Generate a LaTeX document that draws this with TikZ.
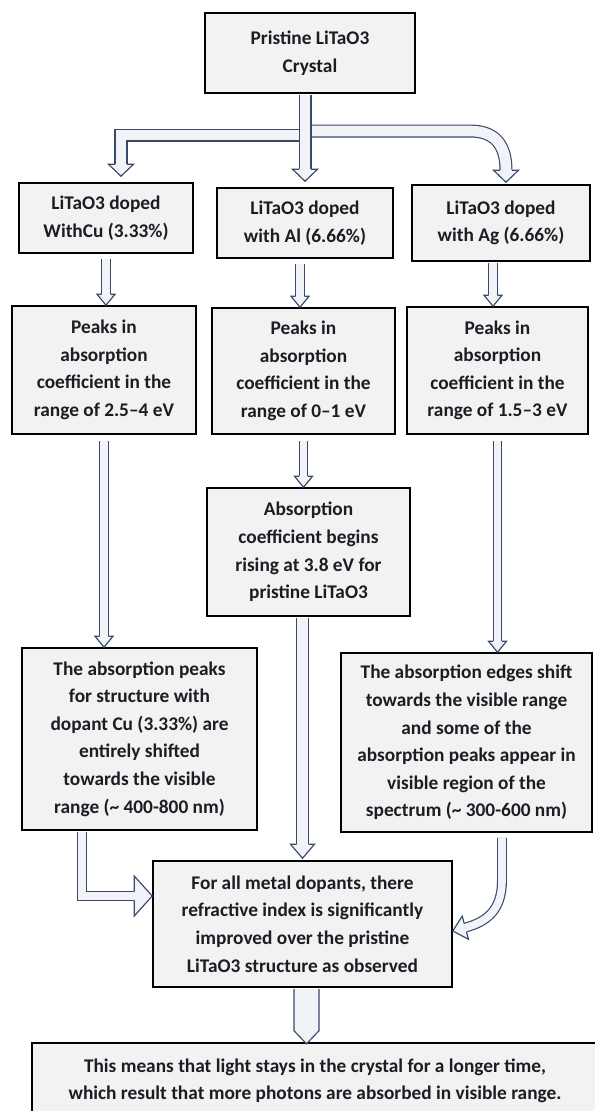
\documentclass[tikz,border=0pt]{standalone}
\usepackage{fontspec}
\setmainfont{Carlito}
\usepackage{tikz}
\usetikzlibrary{calc}
\definecolor{boxgray}{RGB}{242,242,242}
\definecolor{arrowline}{RGB}{56,74,108}
\definecolor{arrowfill}{RGB}{242,243,246}
\definecolor{inkdark}{RGB}{28,28,36}
\tikzset{%
    box/.style={%
        draw=black, line width=1.3pt, fill=boxgray, text=inkdark,
        align=center, inner sep=2pt,
        font=\fontsize{16.5}{23.5}\selectfont\bfseries
    },
    thinshaft/.style={draw=arrowline, line width=1pt, double=arrowfill, double distance=6.5pt},
    wideshaft/.style={draw=arrowline, line width=1pt, double=arrowfill, double distance=9.1pt},
    tipline/.style={draw=arrowline, line width=1pt, fill=arrowfill, line join=miter}
}
% tip, angle, half shaft, half head, length
\newcommand{\blockhead}[5]{%
    \begin{scope}[shift={#1}, rotate=#2]
        \filldraw[tipline] (-#3,-#5) -- (-#4,-#5) -- (0,0) -- (#4,-#5) -- (#3,-#5);
    \end{scope}}

\begin{document}
\begin{tikzpicture}[x=0.03cm, y=-0.03cm]
\useasboundingbox (0,0) rectangle (595,1111);

\node[box, minimum width=6.3cm, minimum height=2.4cm] (top) at (310,53) {Pristine LiTaO3\\Crystal};

\node[box, minimum width=5.22cm, minimum height=2.1cm] (cu1) at (106,218) {LiTaO3 doped\\WithCu (3.33\%)};
\node[box, minimum width=5.28cm, minimum height=2.1cm] (al1) at (305,223) {LiTaO3 doped\\with Al (6.66\%)};
\node[box, minimum width=5.34cm, minimum height=2.28cm] (ag1) at (501,223) {LiTaO3 doped\\with Ag (6.66\%)};

\node[box, minimum width=5.52cm, minimum height=3.84cm] (cu2) at (104,370) {Peaks in\\absorption\\coefficient in the\\range of 2.5--4 eV};
\node[box, minimum width=5.49cm, minimum height=3.78cm] (al2) at (303.5,371) {Peaks in\\absorption\\coefficient in the\\range of 0--1 eV};
\node[box, minimum width=5.43cm, minimum height=3.81cm] (ag2) at (497.5,370.5) {Peaks in\\absorption\\coefficient in the\\range of 1.5--3 eV};

\node[box, minimum width=6.09cm, minimum height=3.84cm] (al3) at (308.5,552) {Absorption\\coefficient begins\\rising at 3.8 eV for\\pristine LiTaO3};

\node[box, minimum width=7.05cm, minimum height=5.46cm] (cu3) at (139.5,739) {The absorption peaks\\for structure with\\dopant Cu (3.33\%) are\\entirely shifted\\towards the visible\\range (\textasciitilde{} 400-800 nm)};
\node[box, minimum width=7.53cm, minimum height=5.37cm] (ag3) at (466.5,742.5) {The absorption edges shift\\towards the visible range\\and some of the\\absorption peaks appear in\\visible region of the\\spectrum (\textasciitilde{} 300-600 nm)};

\node[box, minimum width=8.97cm, minimum height=3.78cm] (final) at (302.5,924) {For all metal dopants, there\\refractive index is significantly\\improved over the pristine\\LiTaO3 structure as observed};

\node[box, minimum width=16.98cm, minimum height=2.28cm] (bottom) at (315,1081) {This means that light stays in the crystal for a longer time,\\which result that more photons are absorbed in visible range.};

% split from the pristine crystal
\coordinate (fork) at (305,133);
\draw[wideshaft] ($(fork)+(0,2)$) -| ($(cu1.north)+(15,-18)$);
\blockhead{($(cu1.north)+(15,-6)$)}{0}{6}{12.5}{12}
\draw[wideshaft] ($(fork)+(0,-2)$) -- (470,131) .. controls (495,131) and (506,145) .. ($(ag1.north)+(5,-14)$);
\blockhead{($(ag1.north)+(5,-2)$)}{0}{6}{12.5}{12}
\draw[wideshaft] ($(top.south -| al1.north)+(0,1)$) -- ($(al1.north)+(0,-18)$);
\blockhead{($(al1.north)+(0,-6)$)}{0}{6}{12.5}{12}

% dopant -> peaks
\draw[thinshaft] ($(cu1.south)+(0,5)$) -- ($(cu1.south |- cu2.north)+(0,-11)$);
\blockhead{(cu1.south |- cu2.north)}{0}{4.4}{9}{11}
\draw[thinshaft] ($(al1.south)+(-5,5)$) -- ($(al1.south |- al2.north)+(-5,-11)$);
\blockhead{($(al1.south |- al2.north)+(-5,0)$)}{0}{4.4}{9}{11}
\draw[thinshaft] ($(ag1.south)+(-8,1)$) -- ($(ag1.south |- ag2.north)+(-8,-11)$);
\blockhead{($(ag1.south |- ag2.north)+(-8,0)$)}{0}{4.4}{9}{11}

% peaks -> next step
\draw[thinshaft] ($(cu2.south)+(0,6)$) -- ($(cu2.south |- cu3.north)+(0,-11)$);
\blockhead{(cu2.south |- cu3.north)}{0}{4.4}{9}{11}
\draw[thinshaft] ($(al2.south)+(0,6)$) -- ($(al2.south |- al3.north)+(0,-11)$);
\blockhead{(al2.south |- al3.north)}{0}{4.4}{9}{11}
\draw[thinshaft] ($(ag2.south)+(0,6)$) -- ($(ag2.south |- ag3.north)+(0,-11)$);
\blockhead{(ag2.south |- ag3.north)}{0}{4.4}{9}{11}

% into the conclusion
\draw[wideshaft] ($(al3.south -| final.north)+(0,1)$) -- ($(final.north)+(0,-16)$);
\blockhead{($(final.north)+(0,-2)$)}{0}{6}{12}{14}
\draw[thinshaft] ($(cu3.south west)+(61,1)$) |- ($(final.west)+(-18,-28)$);
\blockhead{($(final.west)+(0,-28)$)}{90}{4.4}{20}{18}
\draw[thinshaft] ($(ag3.south)+(35.5,5)$) -- (502,880) .. controls (502,912) and (485,922) .. ($(final.east)+(12.6,3.6)$);
\blockhead{($(final.east)+(0,7)$)}{-75}{4.4}{12}{13}

\filldraw[tipline] ($(final.south)+(-8.5,1)$) -- ($(final.south)+(-8.5,43)$) -- ($(final.south)+(4,56)$) -- ($(final.south)+(16.5,43)$) -- ($(final.south)+(16.5,1)$);
\end{tikzpicture}
\end{document}
